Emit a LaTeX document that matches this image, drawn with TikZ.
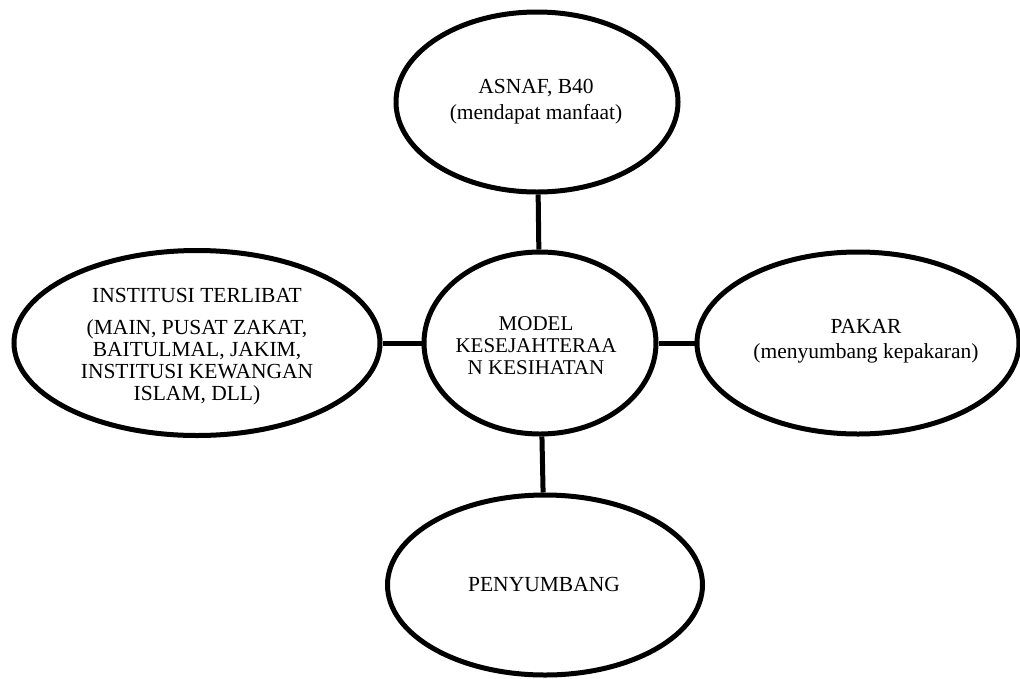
\documentclass[tikz,border=0pt]{standalone}
\usepackage{fontspec}
\setmainfont{Liberation Serif}
\usetikzlibrary{shapes}
\usetikzlibrary{positioning}
\tikzset{
    oval/.style = {ellipse, line width=5pt, draw=black, fill=white, inner sep=0pt},
    ovaltext/.style = {align=center, inner sep=0pt, font=\fontsize{21.5}{25}\selectfont},
    link/.style = {line width=5pt, draw=black}
}

\begin{document}
\begin{tikzpicture}[x=1pt,y=-1pt]
\useasboundingbox (0,0) rectangle (1020,678);
\node[oval, minimum width=282, minimum height=180] at (537, 102) (asnaf) {};
\node[oval, minimum width=232, minimum height=182] at (540, 343) (model) {};
\node[oval, minimum width=366, minimum height=185] at (197, 343) (inst) {};
\node[oval, minimum width=322, minimum height=182] at (858, 343) (pakar) {};
\node[oval, minimum width=315, minimum height=180] at (545, 585) (penyumbang) {};
%
\node[ovaltext, font=\fontsize{21.5}{26}\selectfont] at (536, 102) (asnafT) {ASNAF, B40\\(mendapat manfaat)};
\node[ovaltext, font=\fontsize{21}{22}\selectfont] at (536, 346) (modelT) {MODEL\\KESEJAHTERAA\\N KESIHATAN};
\node[ovaltext, font=\fontsize{21.5}{22}\selectfont] at (197, 347) (instT) {INSTITUSI TERLIBAT\\[10pt](MAIN, PUSAT ZAKAT,\\BAITULMAL, JAKIM,\\INSTITUSI KEWANGAN\\ISLAM, DLL)};
\node[ovaltext] at (866, 341) (pakarT) {PAKAR\\(menyumbang kepakaran)};
\node[ovaltext] at (544, 584) (penyumbangT) {PENYUMBANG};
%
\draw[link] (asnaf) -- (model);
\draw[link] (inst) -- (model);
\draw[link] (model) -- (pakar);
\draw[link] (model) -- (penyumbang);

\end{tikzpicture}
\end{document}
